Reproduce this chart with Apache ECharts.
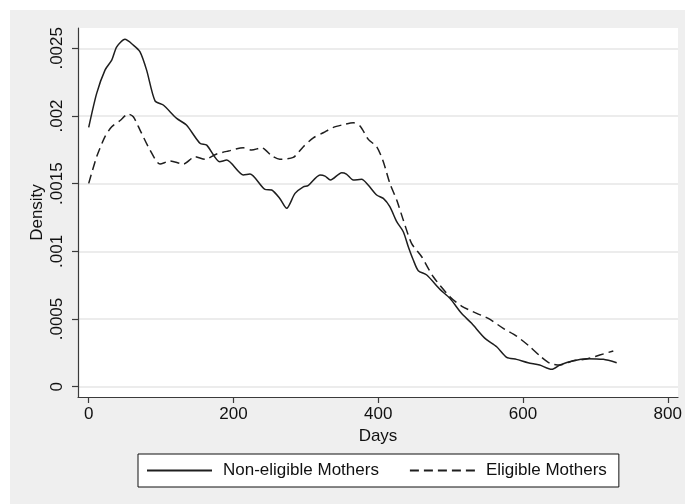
<!DOCTYPE html>
<html>
<head>
<meta charset="utf-8">
<script src="https://cdn.jsdelivr.net/npm/echarts@6/dist/echarts.min.js"></script>
<style>
html, body { margin: 0; padding: 0; background: #ffffff; }
#wrap { position: relative; width: 685px; height: 504px; overflow: hidden; background: #ffffff; }
#bg { position: absolute; left: 10px; top: 10px; width: 675px; height: 494px; background: #efefef; }
#chart { position: absolute; left: 0; top: 0; width: 685px; height: 504px; }
</style>
</head>
<body>
<div id="wrap"><div id="bg"></div><div id="chart"></div></div>
<script>
// ---- data ----
const seriesNames = ['Non-eligible Mothers', 'Eligible Mothers'];

const nonEligibleDays = [0, 11, 22.5, 31.8, 38.7, 50, 61.6, 70.9, 80, 91.6, 103, 121.5, 135, 153.7, 163, 181, 190.6, 213.6, 222.8, 243.5, 252.8, 264, 273.5, 285, 296.5, 303, 319.5, 326.5, 334, 349.5, 356, 365.5, 377, 386, 397.8, 407, 416, 425.5, 434.6, 441.5, 448.4, 455.3, 467, 485.3, 499, 515, 529, 547.5, 563.6, 577.4, 591, 607, 623, 639.6, 651, 669.5, 688, 711, 729.4];
const nonEligibleDensity = [0.001916, 0.002167, 0.002339, 0.002413, 0.002511, 0.002566, 0.002524, 0.002474, 0.002339, 0.002112, 0.002081, 0.001982, 0.001933, 0.001798, 0.001785, 0.001662, 0.001674, 0.001564, 0.001571, 0.001458, 0.001453, 0.001391, 0.001318, 0.001428, 0.001477, 0.001485, 0.001564, 0.001556, 0.001527, 0.001581, 0.001571, 0.001527, 0.001532, 0.00149, 0.001416, 0.001391, 0.00133, 0.001219, 0.001145, 0.001034, 0.000936, 0.000857, 0.000825, 0.000719, 0.000653, 0.000542, 0.000468, 0.000357, 0.000295, 0.000217, 0.000202, 0.000177, 0.00016, 0.000128, 0.00016, 0.000192, 0.000207, 0.000202, 0.000177];

const eligibleDays = [0, 11, 22.5, 31.8, 43, 54.7, 61.6, 70.9, 84.7, 98.5, 112.3, 130.7, 146.8, 160.7, 176.8, 192.9, 213.6, 225, 239, 252.8, 264, 282.6, 296.5, 310.3, 324, 338, 349.5, 365.5, 374.8, 386.3, 397.8, 407, 416, 425.5, 434.6, 446, 460, 476, 499, 515, 536, 552, 572.7, 591, 609.6, 623.5, 637, 651, 669.5, 688, 706, 724.7];
const eligibleDensity = [0.001502, 0.001699, 0.001847, 0.00192, 0.001965, 0.002014, 0.001994, 0.001896, 0.001748, 0.001645, 0.001667, 0.001645, 0.001699, 0.00168, 0.001719, 0.001741, 0.001765, 0.001748, 0.001765, 0.001706, 0.00168, 0.001694, 0.001773, 0.001839, 0.001876, 0.001916, 0.001933, 0.00195, 0.001926, 0.001827, 0.001773, 0.001662, 0.001502, 0.001379, 0.001231, 0.001059, 0.00096, 0.000812, 0.000665, 0.000596, 0.000542, 0.000505, 0.000431, 0.000374, 0.000295, 0.000227, 0.000173, 0.00016, 0.000192, 0.000205, 0.000234, 0.000264];

const xTicks = [0, 200, 400, 600, 800];
const xTickLabels = ['0', '200', '400', '600', '800'];
const yTicks = [0, 0.0005, 0.001, 0.0015, 0.002, 0.0025];
const yTickLabels = ['0', '.0005', '.001', '.0015', '.002', '.0025'];

// ---- chart ----
const pairs = (xs, ys) => xs.map((x, i) => [x, ys[i]]);
const labelFor = (ticks, labels) => (v) => {
  let best = 0, d = Infinity;
  ticks.forEach((t, i) => { const dd = Math.abs(t - v); if (dd < d) { d = dd; best = i; } });
  return labels[best];
};

const FONT = '"Liberation Sans", Arial, Helvetica, sans-serif';
const LINE = '#1e1e1e';
const AXIS = '#3a3a3a';

const chart = echarts.init(document.getElementById('chart'), null, { renderer: 'canvas' });
chart.setOption({
  backgroundColor: 'transparent',
  animation: false,
  textStyle: { fontFamily: FONT },
  grid: {
    left: 78, top: 28, width: 600, height: 369,
    show: true, backgroundColor: '#ffffff', borderWidth: 0
  },
  xAxis: {
    type: 'value',
    min: -14.8, max: 814.1,
    name: 'Days', nameLocation: 'middle', nameGap: 31, nameMoveOverlap: false,
    nameTextStyle: { fontSize: 17, color: '#111', fontFamily: FONT },
    axisLine: { show: true, onZero: false, lineStyle: { color: AXIS, width: 1.2 } },
    axisTick: { show: true, length: 6, customValues: xTicks, lineStyle: { color: AXIS, width: 1.2 } },
    axisLabel: { customValues: xTicks, formatter: labelFor(xTicks, xTickLabels), fontSize: 17, color: '#111', margin: 9, fontFamily: FONT },
    splitLine: { show: false }
  },
  yAxis: {
    type: 'value',
    min: -0.0000761, max: 0.00265,
    name: 'Density', nameLocation: 'middle', nameGap: 32, nameRotate: 90, nameMoveOverlap: false,
    nameTextStyle: { fontSize: 17, color: '#111', fontFamily: FONT },
    axisLine: { show: true, onZero: false, lineStyle: { color: AXIS, width: 1.2 } },
    axisTick: { show: true, length: 6, customValues: yTicks, lineStyle: { color: AXIS, width: 1.2 } },
    axisLabel: { customValues: yTicks, formatter: labelFor(yTicks, yTickLabels), rotate: 90, fontSize: 17, color: '#111', margin: 12, fontFamily: FONT },
    splitLine: { show: true, lineStyle: { color: '#e6e6e6', width: 1.6 } }
  },
  legend: {
    show: true,
    left: 138, top: 454,
    orient: 'horizontal',
    backgroundColor: '#ffffff',
    borderColor: '#111', borderWidth: 1,
    padding: [8, 12, 8, 8],
    itemWidth: 65, itemHeight: 14, itemGap: 30,
    itemStyle: { color: 'transparent', borderWidth: 0, opacity: 0 },
    textStyle: { fontSize: 17, color: '#111', fontFamily: FONT, padding: [0, 0, 0, 6] },
    data: seriesNames
  },
  series: [
    {
      name: seriesNames[0], type: 'line', symbol: 'none', smooth: 0.25,
      lineStyle: { color: LINE, width: 1.5, type: 'solid' },
      itemStyle: { color: LINE },
      data: pairs(nonEligibleDays, nonEligibleDensity)
    },
    {
      name: seriesNames[1], type: 'line', symbol: 'none', smooth: 0.25,
      lineStyle: { color: LINE, width: 1.5, type: [9, 5] },
      itemStyle: { color: LINE },
      data: pairs(eligibleDays, eligibleDensity)
    }
  ]
});
</script>
</body>
</html>
